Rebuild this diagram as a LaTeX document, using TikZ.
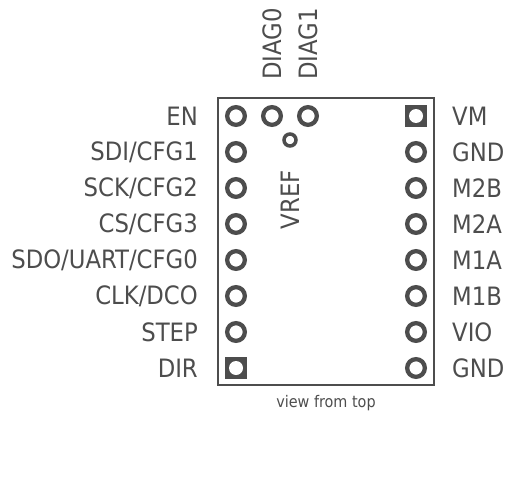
\documentclass[tikz,border=0pt]{standalone}
\usepackage{xcolor}
\usepackage{fontspec}
\setmainfont{DejaVu Sans Condensed}
\usetikzlibrary{positioning}
\definecolor{pindark}{HTML}{4D4D4D}

\begin{document}
\begin{tikzpicture}[
  x=1pt, y=-1pt,
  font=\fontsize{25.3}{29}\selectfont,
  pad/.style={draw=pindark, circle, fill=white, line width=4.3pt, minimum size=17.7pt, inner sep=0pt},
  padsq/.style={draw=none, rectangle, fill=pindark, minimum size=22pt, inner sep=0pt},
  hole/.style={circle, fill=white, minimum size=14pt, inner sep=0pt},
  lbl/.style={text=pindark, inner sep=0pt},
  pinl/.style={lbl, anchor=east},
  pinr/.style={lbl, anchor=west},
  pinv/.style={lbl, rotate=90, anchor=west},
]
\useasboundingbox (0,0) rectangle (524,476);

\node[draw=pindark, line width=2.5pt, minimum width=216pt, minimum height=287pt, inner sep=0pt] (board) at (326.2,241.7) {};

% left row
\node[pad] (en) at (236,116) {};
\node[pad] (sdi) at (236,152) {};
\node[pad] (sck) at (236,188) {};
\node[pad] (cs) at (236,224) {};
\node[pad] (sdo) at (236,260) {};
\node[pad] (clk) at (236,296) {};
\node[pad] (stp) at (236,332) {};
\node[padsq] (dir) at (236,368) {};
\node[hole] (dirh) at (236,368) {};

% right row
\node[padsq] (vm) at (416,116) {};
\node[hole] (vmh) at (416,116) {};
\node[pad] (gnda) at (416,152) {};
\node[pad] (mtwob) at (416,188) {};
\node[pad] (mtwoa) at (416,224) {};
\node[pad] (monea) at (416,260) {};
\node[pad] (moneb) at (416,296) {};
\node[pad] (vio) at (416,332) {};
\node[pad] (gndb) at (416,368) {};

% top row
\node[pad] (diaga) at (272,116) {};
\node[pad] (diagb) at (308,116) {};
\node[pad, line width=3.5pt, minimum size=12pt] (vref) at (290,140) {};

\node[pinl] (enl) at (198,116) {EN};
\node[pinl] (sdil) at (198,152) {SDI/CFG1};
\node[pinl] (sckl) at (198,188) {SCK/CFG2};
\node[pinl] (csl) at (198,224) {CS/CFG3};
\node[pinl] (sdol) at (198,260) {SDO/UART/CFG0};
\node[pinl] (clkl) at (198,296) {CLK/DCO};
\node[pinl] (stpl) at (198,332) {STEP};
\node[pinl] (dirl) at (198,368) {DIR};

\node[pinr] (vml) at (452,116) {VM};
\node[pinr] (gndal) at (452,152) {GND};
\node[pinr] (mtwobl) at (452,188) {M2B};
\node[pinr] (mtwoal) at (452,224) {M2A};
\node[pinr] (moneal) at (452,260) {M1A};
\node[pinr] (monebl) at (452,296) {M1B};
\node[pinr] (viol) at (452,332) {VIO};
\node[pinr] (gndbl) at (452,368) {GND};

\node[pinv] (diagal) at (272,80) {DIAG0};
\node[pinv] (diagbl) at (308,80) {DIAG1};
\node[pinv] (vrefl) at (290,229.5) {VREF};

\node[lbl, font=\fontsize{16}{19}\selectfont] (view) at (326,403) {view from top};
\end{tikzpicture}
\end{document}
